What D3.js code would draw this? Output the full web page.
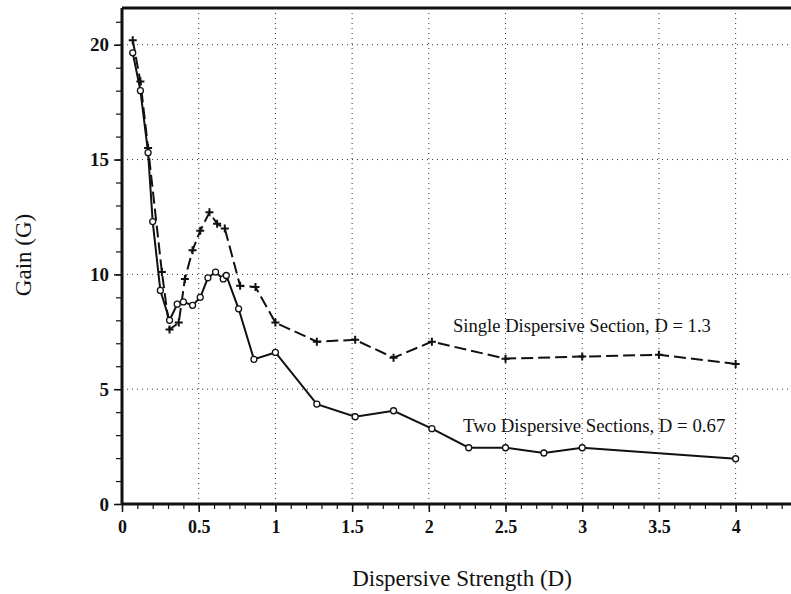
<!DOCTYPE html>
<html><head><meta charset="utf-8">
<script src="https://cdn.jsdelivr.net/npm/d3@7"></script>
<style>body{margin:0;background:#fff}svg{display:block}text{font-family:"Liberation Serif","DejaVu Serif",serif;fill:#111}</style>
</head><body><svg id="c" width="791" height="594"></svg>
<script>
const singleX = [0.07,0.12,0.17,0.26,0.31,0.37,0.41,0.46,0.51,0.57,0.62,0.67,0.77,0.87,1.0,1.27,1.52,1.77,2.02,2.5,3.0,3.5,4.0];
const singleG = [20.2,18.4,15.5,10.1,7.6,7.9,9.8,11.05,11.9,12.7,12.2,12.0,9.5,9.45,7.9,7.07,7.15,6.37,7.07,6.33,6.42,6.5,6.1];
const twoX = [0.07,0.12,0.17,0.20,0.25,0.31,0.36,0.40,0.46,0.51,0.56,0.61,0.66,0.68,0.76,0.86,1.0,1.27,1.52,1.77,2.02,2.26,2.5,2.75,3.0,4.0];
const twoG = [19.65,18.0,15.3,12.3,9.3,8.0,8.7,8.8,8.65,9.0,9.85,10.1,9.8,9.95,8.5,6.3,6.6,4.35,3.8,4.06,3.28,2.45,2.45,2.22,2.45,1.97];
const xTicks = [0,0.5,1,1.5,2,2.5,3,3.5,4];
const xTickLabels = ["0","0.5","1","1.5","2","2.5","3","3.5","4"];
const yTicks = [0,5,10,15,20];
const yTickLabels = ["0","5","10","15","20"];
const labelSingle = "Single Dispersive Section, D = 1.3";
const labelTwo = "Two Dispersive Sections, D = 0.67";
const xTitle = "Dispersive Strength (D)";
const yTitle = "Gain (G)";

const svg = d3.select("#c");
const x = d3.scaleLinear().domain([0,4.4]).range([122,797]);
const y = d3.scaleLinear().domain([0,21.6]).range([504,8]);
const X0 = x(0), Y0 = y(0), YT = y(21.6);

// gridlines
const g = svg.append("g");
g.selectAll(".vg").data(xTicks.filter(d=>d>0)).enter().append("line")
 .attr("x1",d=>x(d)).attr("x2",d=>x(d)).attr("y1",YT).attr("y2",Y0)
 .attr("stroke","#333").attr("stroke-width",1).attr("stroke-dasharray","1,4");
g.selectAll(".hg").data(yTicks.filter(d=>d>0)).enter().append("line")
 .attr("x1",X0).attr("x2",791).attr("y1",d=>y(d)).attr("y2",d=>y(d))
 .attr("stroke","#333").attr("stroke-width",1).attr("stroke-dasharray","1,4");

// axes
const xAxisMinor = d3.axisBottom(x).tickValues(d3.range(0,44).map(i=>i/10)).tickSize(5).tickFormat("");
svg.append("g").attr("transform",`translate(0,${Y0})`).call(xAxisMinor)
 .call(s=>s.select(".domain").remove()).selectAll("line").attr("stroke","#111").attr("stroke-width",1.2);
const xAxis = d3.axisBottom(x).tickValues(xTicks).tickSize(8).tickPadding(8)
 .tickFormat((d,i)=>xTickLabels[i]);
const xa = svg.append("g").attr("transform",`translate(0,${Y0})`).call(xAxis);
xa.select(".domain").remove();
xa.selectAll("line").attr("stroke","#111").attr("stroke-width",1.5);
xa.selectAll("text").attr("font-size",18).attr("font-weight","bold").style("font-family","Liberation Serif");

const yAxisMinor = d3.axisLeft(y).tickValues(d3.range(0,22)).tickSize(6).tickFormat("");
svg.append("g").attr("transform",`translate(${X0},0)`).call(yAxisMinor)
 .call(s=>s.select(".domain").remove()).selectAll("line").attr("stroke","#111").attr("stroke-width",1.2);
const yAxis = d3.axisLeft(y).tickValues(yTicks).tickSize(8).tickPadding(5)
 .tickFormat((d,i)=>yTickLabels[i]);
const ya = svg.append("g").attr("transform",`translate(${X0},0)`).call(yAxis);
ya.select(".domain").remove();
ya.selectAll("line").attr("stroke","#111").attr("stroke-width",1.5);
ya.selectAll("text").attr("font-size",19).attr("font-weight","bold").style("font-family","Liberation Serif");

// frame
svg.append("line").attr("x1",X0).attr("x2",791).attr("y1",Y0).attr("y2",Y0).attr("stroke","#111").attr("stroke-width",3);
svg.append("line").attr("x1",X0).attr("x2",X0).attr("y1",YT).attr("y2",Y0+1).attr("stroke","#111").attr("stroke-width",3);
svg.append("line").attr("x1",X0).attr("x2",791).attr("y1",YT).attr("y2",YT).attr("stroke","#111").attr("stroke-width",3);

// series
const single = singleX.map((d,i)=>[d,singleG[i]]);
const two = twoX.map((d,i)=>[d,twoG[i]]);
const line = d3.line().x(d=>x(d[0])).y(d=>y(d[1]));
svg.append("path").datum(single).attr("d",line).attr("fill","none").attr("stroke","#111")
 .attr("stroke-width",2).attr("stroke-dasharray","12,5");
svg.append("path").datum(two).attr("d",line).attr("fill","none").attr("stroke","#111").attr("stroke-width",2);

svg.selectAll(".plus").data(single).enter().append("path")
 .attr("d",d=>{const cx=x(d[0]),cy=y(d[1]);return `M${cx-4},${cy}H${cx+4}M${cx},${cy-4}V${cy+4}`;})
 .attr("stroke","#111").attr("stroke-width",2).attr("fill","none");
svg.selectAll(".circ").data(two).enter().append("circle")
 .attr("cx",d=>x(d[0])).attr("cy",d=>y(d[1])).attr("r",3)
 .attr("fill","#fff").attr("stroke","#111").attr("stroke-width",1.3);

// labels
svg.append("text").attr("x",453).attr("y",332).attr("font-size",18.6).text(labelSingle);
svg.append("text").attr("x",463).attr("y",432).attr("font-size",18.8).text(labelTwo);
svg.append("text").attr("x",462).attr("y",586).attr("text-anchor","middle").attr("font-size",23).text(xTitle);
svg.append("text").attr("transform","translate(31,255) rotate(-90)").attr("text-anchor","middle").attr("font-size",23).text(yTitle);
</script></body></html>
